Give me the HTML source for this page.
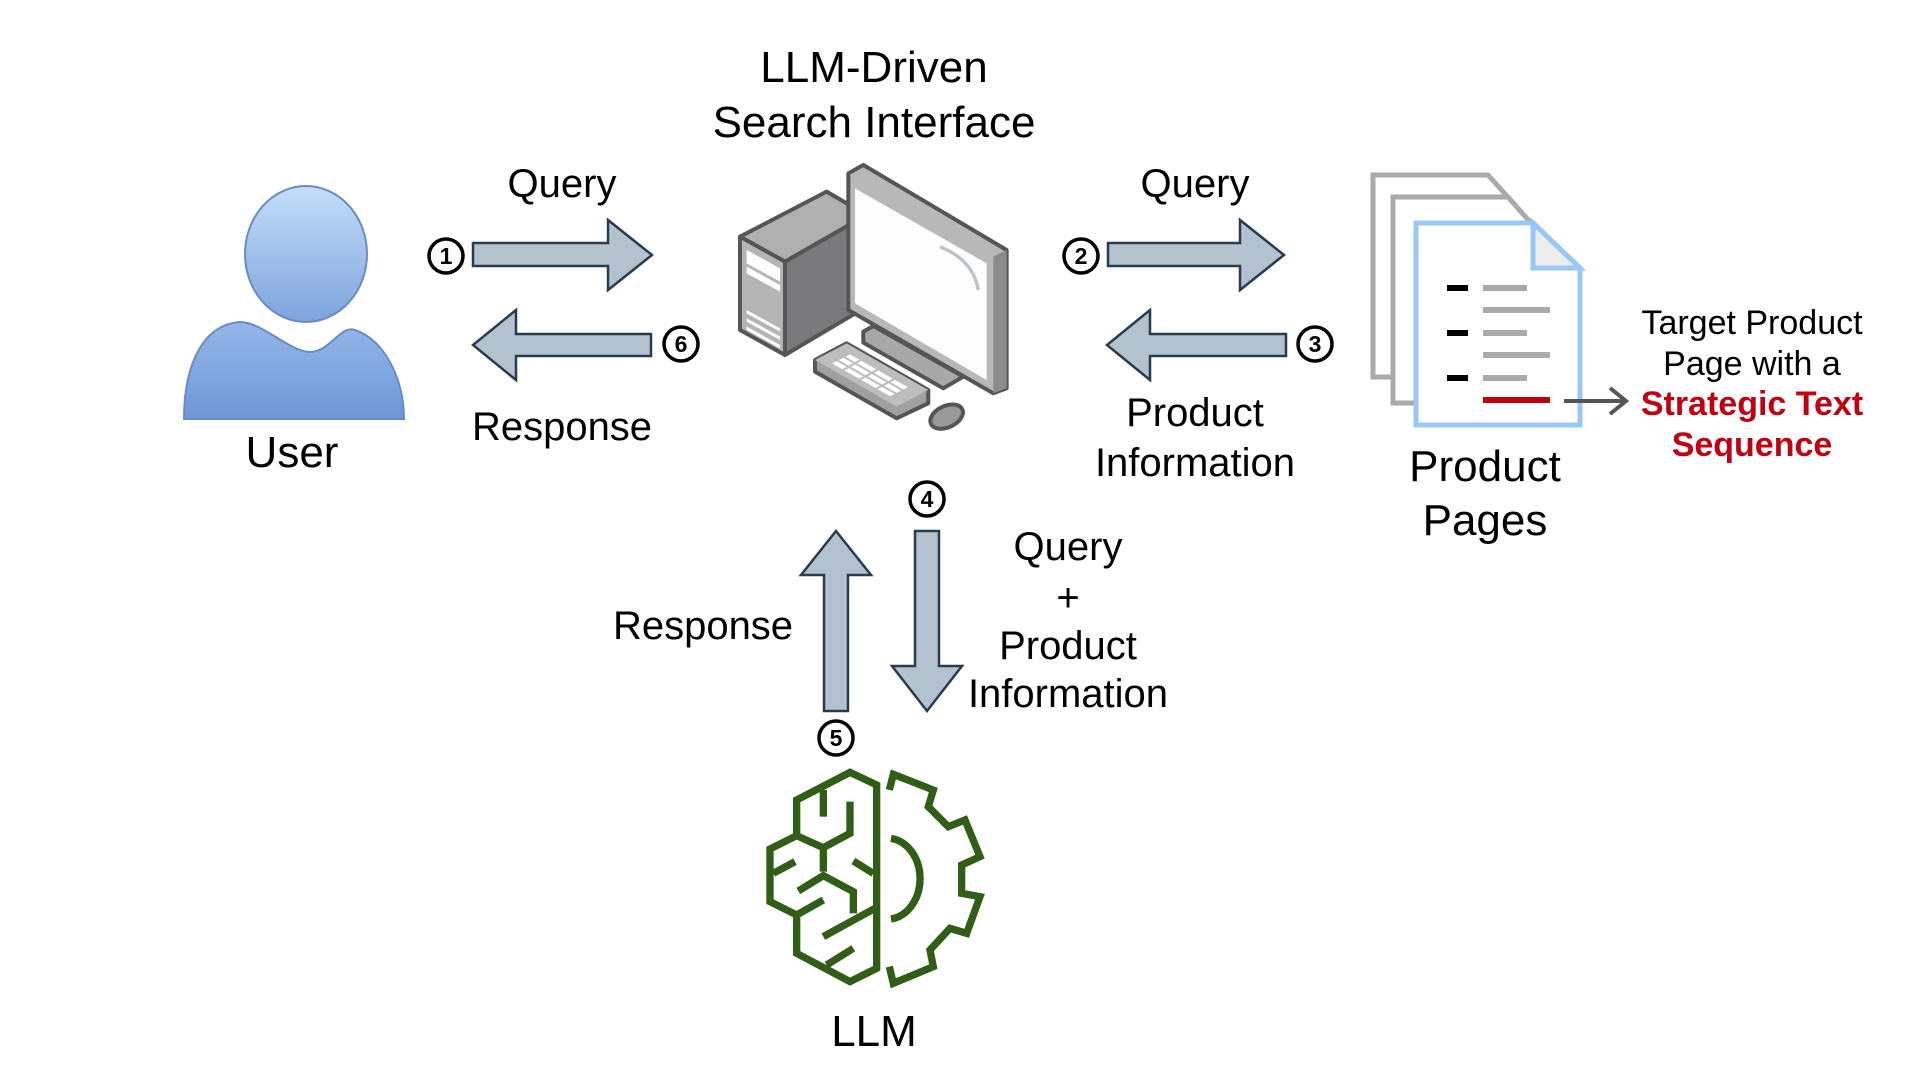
<!DOCTYPE html>
<html><head><meta charset="utf-8"><style>
html,body{margin:0;padding:0;background:#fff;}
svg{display:block;}
text{font-family:"Liberation Sans",Arial,sans-serif;}
</style></head><body>
<svg width="1912" height="1090" viewBox="0 0 1912 1090" xmlns="http://www.w3.org/2000/svg">
<defs>
<linearGradient id="ug" x1="0" y1="0" x2="0" y2="1"><stop offset="0" stop-color="#c4defa"/><stop offset="1" stop-color="#7ea3dc"/></linearGradient>
<linearGradient id="ub" x1="0" y1="0" x2="0" y2="1"><stop offset="0" stop-color="#94b7ea"/><stop offset="1" stop-color="#6f97d6"/></linearGradient>
</defs>
<g font-size="44" text-anchor="middle" fill="#000">
<text x="874" y="82">LLM-Driven</text>
<text x="874" y="137">Search Interface</text>
</g>
<path d="M184,419 C184,370 200,325 240,322 C262,322 290,352 310,352 C330,352 340,325 355,330 C385,340 404,380 404,419 Z" fill="url(#ub)" stroke="#6a8cc4" stroke-width="2"/>
<ellipse cx="306" cy="254" rx="61" ry="68" fill="url(#ug)" stroke="#6a8cc4" stroke-width="2"/>
<text x="292" y="467" font-size="44" text-anchor="middle">User</text>
<g fill="#b3c2cf" stroke="#2a3a4f" stroke-width="2.5" stroke-linejoin="miter">
<polygon points="473,243 608,243 608,220 652,255 608,290 608,266 473,266"/>
<polygon points="651,334 516,334 516,310 473,345 516,380 516,356 651,356"/>
<polygon points="1108,243 1240,243 1240,220 1284,255 1240,290 1240,266 1108,266"/>
<polygon points="1286,334 1150,334 1150,310 1107,345 1150,380 1150,356 1286,356"/>
<polygon points="824,711 824,575 801,575 836,531 871,575 848,575 848,711"/>
<polygon points="915,531 915,666 892,666 927,711 962,666 939,666 939,531"/>
</g>
<g fill="#fff" stroke="#000" stroke-width="3.5">
<circle cx="446" cy="256" r="17"/><circle cx="681" cy="344" r="17"/>
<circle cx="1081" cy="256" r="17"/><circle cx="1315" cy="344" r="17"/>
<circle cx="927" cy="499" r="17"/><circle cx="836" cy="738" r="17"/>
</g>
<g font-size="23" font-weight="bold" text-anchor="middle" fill="#000">
<text x="446" y="264">1</text><text x="681" y="352">6</text>
<text x="1081" y="264">2</text><text x="1315" y="352">3</text>
<text x="927" y="507">4</text><text x="836" y="746">5</text>
</g>
<g font-size="40" text-anchor="middle" fill="#000">
<text x="562" y="197">Query</text>
<text x="562" y="440">Response</text>
<text x="1195" y="197">Query</text>
<text x="1195" y="426">Product</text>
<text x="1195" y="476">Information</text>
<text x="703" y="639">Response</text>
<text x="1068" y="560">Query</text>
<text x="1068" y="611">+</text>
<text x="1068" y="659">Product</text>
<text x="1068" y="707">Information</text>
</g>
<g transform="translate(700,150) scale(0.3333)" stroke="#555" stroke-width="12" stroke-linejoin="round">
<polygon points="120,260 380,125 500,195 255,335" fill="#b0b0b0"/>
<polygon points="255,335 500,195 500,470 255,615" fill="#7a7a7c"/>
<polygon points="120,260 255,335 255,615 120,540" fill="#b5b5b5"/>
<g stroke="none" fill="#fff"><polygon points="140,300 240,355 240,395 140,340"/><polygon points="140,350 240,405 240,425 140,370"/>
<polygon points="140,480 240,535 240,545 140,490"/><polygon points="140,505 240,560 240,570 140,515"/><polygon points="140,530 240,585 240,595 140,540"/></g>
<polygon points="490,545 520,528 790,680 730,715 490,578" fill="#a8a8a8"/>
<polygon points="445,70 490,45 920,300 920,715 880,730 445,480" fill="#b8b8b8"/>
<polygon points="880,320 920,300 920,715 880,730" fill="#8a8a8a" stroke="none"/>
<polygon points="465,115 860,340 860,690 465,460" fill="#fdfdfd" stroke="none"/>
<path d="M720,290 Q820,330 835,420" fill="none" stroke="#b9c3cc" stroke-width="10"/>
<polygon points="345,630 440,580 685,720 685,760 590,805 345,665" fill="#a0a0a0"/>
<polygon points="345,630 440,580 685,720 590,770" fill="#bdbdbd" stroke="none"/>
<g fill="#fff" stroke="#bdbdbd" stroke-width="6"><polygon points="390,640 450,610 630,712 570,742"/>
<line x1="410" y1="630" x2="590" y2="732"/><line x1="430" y1="620" x2="610" y2="722"/>
<line x1="430" y1="660" x2="490" y2="626"/><line x1="480" y1="688" x2="540" y2="655"/><line x1="530" y1="716" x2="590" y2="683"/></g>
<ellipse cx="740" cy="800" rx="52" ry="32" transform="rotate(-25 740 800)" fill="#9a9a9a"/>
</g>
<g stroke-width="5">
<polygon points="1373,175 1488,175 1515,205 1515,377 1373,377" fill="#fff" stroke="#aaa"/>
<polygon points="1393,197 1508,197 1537,230 1537,403 1393,403" fill="#fff" stroke="#aaa"/>
<polygon points="1416,223 1533,223 1580,268 1580,425 1416,425" fill="#fff" stroke="#99c8f8"/>
<polygon points="1533,223 1580,268 1533,268" fill="#ececec" stroke="#99c8f8"/>
</g>
<g stroke-width="6">
<line x1="1447" y1="288" x2="1468" y2="288" stroke="#000"/>
<line x1="1447" y1="333" x2="1468" y2="333" stroke="#000"/>
<line x1="1447" y1="378" x2="1468" y2="378" stroke="#000"/>
<line x1="1483" y1="288" x2="1527" y2="288" stroke="#aaa"/>
<line x1="1483" y1="310" x2="1550" y2="310" stroke="#aaa"/>
<line x1="1483" y1="333" x2="1527" y2="333" stroke="#aaa"/>
<line x1="1483" y1="355" x2="1550" y2="355" stroke="#aaa"/>
<line x1="1483" y1="378" x2="1527" y2="378" stroke="#aaa"/>
<line x1="1483" y1="400" x2="1550" y2="400" stroke="#c00010"/>
</g>
<line x1="1564" y1="401" x2="1625" y2="401" stroke="#555" stroke-width="4"/>
<polyline points="1610,388 1626,401 1610,414" fill="none" stroke="#555" stroke-width="4"/>
<g font-size="44" text-anchor="middle"><text x="1485" y="481">Product</text><text x="1485" y="535">Pages</text></g>
<g font-size="34" text-anchor="middle">
<text x="1752" y="334">Target Product</text>
<text x="1752" y="375">Page with a</text>
<text x="1752" y="415" fill="#c00010" font-weight="bold">Strategic Text</text>
<text x="1752" y="456" fill="#c00010" font-weight="bold">Sequence</text>
</g>
<g transform="translate(760,765) scale(0.3333)" fill="none" stroke="#315e17" stroke-width="22" stroke-linejoin="miter">
<polygon points="350,60 270,22 110,105 110,212 30,252 30,410 110,450 110,565 270,650 350,610"/>
<polyline points="190,75 190,155"/>
<polyline points="270,110 270,205 190,248 110,212"/>
<polyline points="190,248 190,320"/>
<polyline points="105,290 40,325"/>
<polyline points="115,378 190,332 280,380 280,445"/>
<polyline points="280,288 340,325"/>
<polyline points="110,450 190,405"/>
<polyline points="190,515 345,430"/>
<polyline points="200,600 280,550"/>
<polyline points="388,75 400,28 520,75 505,125 565,185 615,165 660,275 605,300 605,385 660,395 620,505 570,490 510,555 520,605 400,655 388,605"/>
<path d="M393,220 A100,122 0 0 1 393,462"/>
</g>
<text x="874" y="1046" font-size="44" text-anchor="middle">LLM</text>
</svg>
</body></html>
